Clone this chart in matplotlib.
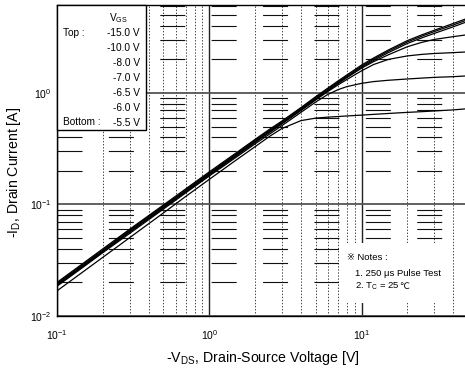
import matplotlib
matplotlib.use("Agg")
import matplotlib.pyplot as plt
from matplotlib.patches import Rectangle
from matplotlib.ticker import LogLocator, NullFormatter

plt.rcParams['font.family'] = ['Liberation Sans', 'DejaVu Sans', 'Noto Sans CJK JP']
plt.rcParams['mathtext.fontset'] = 'custom'
plt.rcParams['mathtext.rm'] = 'Liberation Sans'
plt.rcParams['mathtext.it'] = 'Liberation Sans'
plt.rcParams['lines.scale_dashes'] = False

# ---- data ----
vds = [0.1, 0.15, 0.2, 0.3, 0.5, 0.7, 1, 1.5, 2, 2.5, 3, 4, 5, 6, 7, 8, 10, 12, 15, 20, 25, 30, 40, 48]
id_m15 = [0.020, 0.030, 0.040, 0.060, 0.099, 0.138, 0.196, 0.29, 0.384, 0.475, 0.56, 0.74, 0.927, 1.105, 1.28, 1.45, 1.78, 2.06, 2.43, 2.95, 3.33, 3.65, 4.2, 4.6]
id_m10 = [0.0196, 0.0294, 0.039, 0.059, 0.097, 0.135, 0.192, 0.284, 0.377, 0.465, 0.553, 0.728, 0.91, 1.085, 1.255, 1.42, 1.74, 2.01, 2.37, 2.87, 3.24, 3.55, 4.07, 4.46]
id_m8 = [0.0192, 0.0288, 0.0383, 0.0575, 0.095, 0.132, 0.188, 0.278, 0.369, 0.455, 0.54, 0.713, 0.89, 1.06, 1.23, 1.39, 1.7, 1.96, 2.3, 2.78, 3.13, 3.42, 3.92, 4.3]
id_m7 = [0.019, 0.0285, 0.038, 0.057, 0.094, 0.131, 0.186, 0.275, 0.365, 0.45, 0.535, 0.705, 0.88, 1.05, 1.21, 1.37, 1.67, 1.91, 2.2, 2.6, 2.85, 3.02, 3.2, 3.31]
id_m65 = [0.0188, 0.0282, 0.0376, 0.0565, 0.093, 0.13, 0.184, 0.272, 0.36, 0.445, 0.528, 0.695, 0.865, 1.03, 1.18, 1.32, 1.58, 1.8, 2.0, 2.15, 2.22, 2.26, 2.3, 2.33]
id_m6 = [0.0185, 0.0277, 0.037, 0.055, 0.091, 0.127, 0.18, 0.265, 0.35, 0.43, 0.51, 0.67, 0.83, 0.97, 1.07, 1.14, 1.22, 1.265, 1.3, 1.335, 1.36, 1.38, 1.40, 1.42]
id_m55 = [0.0168, 0.0252, 0.0336, 0.0504, 0.084, 0.118, 0.168, 0.25, 0.33, 0.41, 0.48, 0.565, 0.595, 0.607, 0.615, 0.622, 0.633, 0.643, 0.655, 0.67, 0.68, 0.69, 0.705, 0.72]
curves = [id_m15, id_m10, id_m8, id_m7, id_m65, id_m6, id_m55]
vgs_labels = ['-15.0 V', '-10.0 V', '-8.0 V', '-7.0 V', '-6.5 V', '-6.0 V', '-5.5 V']

W, H = 465, 371
fig = plt.figure(figsize=(W / 100, H / 100), dpi=100)
L, R, T, B = 57, 466, 5, 316
ax = fig.add_axes([L / W, 1 - B / H, (R - L) / W, (B - T) / H])
ax.set_xscale('log')
ax.set_yscale('log')
ax.set_xlim(0.1, 48.5)
ax.set_ylim(0.01, 6.15)

for c in curves:
    ax.plot(vds, c, color='black', lw=0.9, zorder=2)

# grid
ax.xaxis.set_minor_locator(LogLocator(base=10, subs=range(2, 10)))
ax.yaxis.set_minor_locator(LogLocator(base=10, subs=range(2, 10)))
ax.xaxis.set_minor_formatter(NullFormatter())
ax.yaxis.set_minor_formatter(NullFormatter())
ax.grid(which='major', axis='x', color='#222222', lw=1.0, zorder=0)
ax.grid(which='major', axis='y', color='#555555', lw=1.3, zorder=0)
ax.grid(which='minor', axis='x', color='#444444', lw=0.7, linestyle=(0, (1, 1.2)), zorder=0)
ax.grid(which='minor', axis='y', color='#111111', lw=0.8, linestyle=(0, (18, 19)), zorder=0)
ax.set_axisbelow(True)

ax.tick_params(which='both', length=0)
ax.tick_params(axis='x', pad=9, labelsize=7.5)
ax.tick_params(axis='y', pad=4, labelsize=7.5)
for s in ax.spines.values():
    s.set_linewidth(1.0)
    s.set_color('black')

def fx(x):
    return x / W

def fy(y):
    return 1 - y / H

# legend box
fig.patches.append(Rectangle((fx(57), fy(130)), (146 - 57) / W, (130 - 5) / H,
                             transform=fig.transFigure, facecolor='white',
                             edgecolor='black', lw=1.0, zorder=3))
fs = 7.3
fig.text(fx(118), fy(18), r'V$_\mathregular{GS}$', ha='center', va='center', fontsize=fs, zorder=4)
fig.text(fx(63), fy(33), 'Top :', ha='left', va='center', fontsize=fs, zorder=4)
fig.text(fx(63), fy(122), 'Bottom :', ha='left', va='center', fontsize=fs, zorder=4)
for i, lab in enumerate(vgs_labels):
    fig.text(fx(140), fy(33 + 15 * i), lab, ha='right', va='center', fontsize=fs, zorder=4)

# notes box
fig.patches.append(Rectangle((fx(339), fy(303)), (453 - 339) / W, (303 - 243) / H,
                             transform=fig.transFigure, facecolor='white',
                             edgecolor='none', zorder=3))
nfs = 6.8
fig.text(fx(347), fy(257), '※ Notes :', ha='left', va='center', fontsize=nfs, zorder=4)
fig.text(fx(355), fy(273), '1. 250 μs Pulse Test', ha='left', va='center', fontsize=nfs, zorder=4)
t2 = fig.text(fx(355), fy(289), r'2. T$_\mathregular{C}$ = 25', ha='left', va='baseline', fontsize=nfs, zorder=4)
fig.canvas.draw()
bb = t2.get_window_extent()
fig.text(bb.x1 / W, fy(289), '℃', ha='left', va='baseline', fontsize=nfs - 0.5,
         family=['DejaVu Sans'], zorder=4)
t2.set_y(fy(289))
t2.set_va('baseline')

# axis labels
fig.text(fx(263), fy(358), r'-V$_\mathregular{DS}$, Drain-Source Voltage [V]', ha='center', va='center', fontsize=10.2)
fig.text(fx(14), fy(172), r'-I$_\mathregular{D}$, Drain Current [A]', ha='center', va='center', fontsize=10.2, rotation=90)

fig.savefig('out.png', dpi=100)
